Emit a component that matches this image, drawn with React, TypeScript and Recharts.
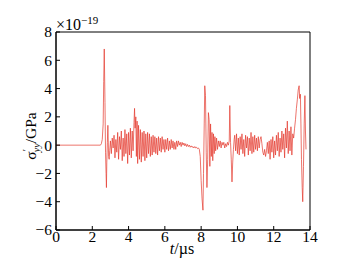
import React from 'react';
import { LineChart, Line, XAxis, YAxis, ReferenceArea, Label } from 'recharts';

// time in µs
const tVals = [
  0, 2.45, 2.5, 2.55, 2.6, 2.63, 2.66, 2.7, 2.73, 2.76, 2.78, 2.8, 2.83, 2.86, 2.9, 2.93, 2.96,
  3.0, 3.05, 3.1, 3.15, 3.2, 3.25, 3.3, 3.35, 3.4, 3.45, 3.5, 3.55, 3.6, 3.65, 3.7, 3.75, 3.8, 3.85,
  3.9, 3.95, 4.0, 4.05, 4.1, 4.15, 4.2, 4.25,
  4.3, 4.33, 4.36, 4.4, 4.43, 4.47, 4.5, 4.55, 4.6, 4.65, 4.7, 4.75, 4.8, 4.85, 4.9, 4.95, 5.0,
  5.05, 5.1, 5.15, 5.2, 5.25, 5.3, 5.35, 5.4, 5.45, 5.5, 5.55, 5.6, 5.65, 5.7, 5.75, 5.8, 5.85,
  5.9, 5.95, 6.0, 6.05, 6.1, 6.15, 6.2, 6.25, 6.3, 6.35, 6.4, 6.45, 6.5, 6.55, 6.6, 6.65, 6.7,
  6.75, 6.8, 6.85, 6.9, 6.95, 7.0, 7.05, 7.1, 7.15, 7.2, 7.25, 7.3, 7.35, 7.4, 7.45, 7.5, 7.55,
  7.6, 7.65, 7.7, 7.75, 7.8, 7.85, 7.9,
  7.95, 8.0, 8.05, 8.1, 8.13, 8.17, 8.2, 8.24, 8.28, 8.32, 8.36, 8.4, 8.44, 8.48, 8.52, 8.56,
  8.6, 8.64, 8.68, 8.72, 8.76, 8.8, 8.85, 8.9, 8.95, 9.0, 9.05, 9.1, 9.15, 9.2, 9.25, 9.3, 9.35,
  9.4, 9.45, 9.5, 9.55, 9.58, 9.62, 9.66, 9.7, 9.74, 9.78, 9.82,
  9.85, 9.9, 9.95, 10.0, 10.05, 10.1, 10.15, 10.2, 10.25, 10.3, 10.35, 10.4, 10.45, 10.5, 10.55,
  10.6, 10.65, 10.7, 10.75, 10.8, 10.85, 10.9, 10.95, 11.0, 11.05, 11.1, 11.15, 11.2, 11.25,
  11.3, 11.35,
  11.4, 11.45, 11.5, 11.55, 11.6, 11.65, 11.7, 11.75, 11.8, 11.85, 11.9, 11.95, 12.0, 12.05,
  12.1, 12.15, 12.2, 12.25, 12.3, 12.35, 12.4, 12.45, 12.5, 12.55, 12.6, 12.65, 12.7, 12.75,
  12.8, 12.85, 12.9, 12.95, 13.0, 13.05, 13.1, 13.15, 13.2, 13.25, 13.3, 13.35, 13.4, 13.43,
  13.47, 13.5, 13.53, 13.57, 13.6, 13.64, 13.68, 13.72, 13.75, 13.78,
];

// stress (×1e-19 GPa)
const sigmaVals = [
  0, 0, 0.1, 0.4, 1.5, 4.5, 6.8, 3.0, -0.5, -2.0, -3.0, -1.2, 0.2, 1.4, -0.8, -1.0, -0.4,
  0.3, -0.6, 0.5, -0.2, 0.7, -0.9, 0.4, -0.5, 0.9, -1.0, 0.6, -0.3, 1.0, -1.1, 0.5, -0.8, 1.1, -0.6,
  0.8, -1.3, 0.9, -0.7, 1.2, -0.9, 1.0, -0.4,
  1.6, 2.6, 1.2, 2.0, -0.8, 1.7, -1.3, 1.4, -1.0, 1.1, -1.2, 0.9, -0.8, 1.0, -1.1, 0.8, -0.9,
  0.9, -0.6, 0.8, -0.8, 0.6, -0.7, 0.7, -0.5, 0.6, -0.6, 0.5, -0.7, 0.6, -0.4, 0.5, -0.5, 0.6,
  -0.3, 0.4, -0.5, 0.4, -0.3, 0.5, -0.4, 0.3, -0.3, 0.4, -0.2, 0.3, -0.3, 0.2, -0.3, 0.3, -0.1,
  0.3, 0.0, 0.2, -0.1, 0.2, 0.0, 0.15, -0.05, 0.1, -0.1, 0.05, -0.1, 0.0, -0.15, -0.05, -0.15, -0.1,
  -0.2, -0.1, -0.2, -0.15, -0.25, -0.2, -0.3,
  -0.8, -2.5, -3.8, -4.6, -2.0, 1.5, 4.2, 3.5, -0.5, -3.0, -1.0, 2.3, 1.8, -1.5, 1.5, -0.8,
  0.9, -1.1, 0.8, -0.6, 0.6, -0.4, 0.5, -0.3, 0.3, -0.1, 0.3, -0.2, 0.2, 0.0, 0.2, -0.2, 0.1,
  -0.1, 0.2, 0.0, 0.3, 2.8, 0.2, -1.0, -2.6, -1.2, -0.3, 0.4,
  0.7, -0.4, 0.8, -0.6, 0.5, -0.7, 0.6, -0.3, 0.8, -0.6, 0.4, -0.8, 0.7, -0.2, 0.6,
  -0.7, 0.5, -0.4, 0.9, -0.6, 0.6, -0.5, 0.7, -0.3, 0.5, -0.4, 0.6, -0.2, 0.4,
  0.6, 0.1,
  -0.5, -0.7, -0.3, -0.8, -0.4, 0.2, -0.6, 0.3, -1.0, 0.4, -0.5, 0.6, -0.9, 0.3,
  -0.7, 0.7, -0.4, 0.9, -0.8, 0.5, -0.5, 1.0, -0.3, 0.8, -0.9, 1.2, -0.2, 1.7,
  -0.6, 1.0, -0.4, 1.3, -0.7, 0.8, 0.5, 1.2, 1.8, 2.6, 3.2, 3.9, 4.2, 3.3,
  3.6, 1.5, -1.0, -3.0, -4.0, -1.5, 1.5, 3.5, 1.0, -0.3,
];

const xTicks = [0, 2, 4, 6, 8, 10, 12, 14];
const yTicks = [-6, -4, -2, 0, 2, 4, 6, 8];

const data = tVals.map((t, i) => ({ t, s: sigmaVals[i] }));

const FONT = '"Liberation Serif", "DejaVu Serif", serif';
const fmt = (v: number) => (v < 0 ? `\u2212${Math.abs(v)}` : `${v}`);

const YTick = ({ x, y, payload }: any) => (
  <g>
    <line x1={x} x2={x + 4} y1={y} y2={y} stroke="#000" strokeWidth={1} />
    <text x={x - 4} y={y} dy="0.35em" textAnchor="end" fontFamily={FONT} fontSize={15.5} fill="#000">
      {fmt(payload.value)}
    </text>
  </g>
);

const XTick = ({ x, y, payload }: any) => (
  <g>
    <line x1={x} x2={x} y1={y} y2={y - 4} stroke="#000" strokeWidth={1} />
    <text x={x} y={y + 12} textAnchor="middle" fontFamily={FONT} fontSize={15.5} fill="#000">
      {payload.value}
    </text>
  </g>
);

const Extras = () => (
  <g fontFamily={FONT} fill="#000">
    <text x={56} y={30} fontSize={16}>
      ×10
      <tspan fontSize={11} dy={-6}>−19</tspan>
    </text>
    <text transform="translate(36,136) rotate(-90)" textAnchor="middle" fontSize={15.5}>
      σ
      <tspan fontSize={10} dy={-6}>′</tspan>
      <tspan fontSize={10} fontStyle="italic" dy={10} dx={-3}>yy</tspan>
      <tspan dy={-4}>/GPa</tspan>
    </text>
    <text x={182} y={254} textAnchor="middle" fontSize={16}>
      <tspan fontStyle="italic">t</tspan>/µs
    </text>
  </g>
);

export default function App() {
  return (
    <div style={{ position: 'absolute', left: 0, top: 0, background: '#fff' }}>
      <LineChart width={337} height={259} data={data} margin={{ top: 32, right: 27, left: 0, bottom: 0 }}>
        <XAxis
          dataKey="t"
          type="number"
          domain={[0, 14]}
          ticks={xTicks}
          height={29}
          tickSize={0}
          tickMargin={0}
          tickLine={false}
          axisLine={{ stroke: '#000' }}
          tick={<XTick />}
          interval={0}
        />
        <YAxis
          type="number"
          domain={[-6, 8]}
          ticks={yTicks}
          width={56}
          tickSize={0}
          tickMargin={0}
          tickLine={false}
          axisLine={{ stroke: '#000' }}
          tick={<YTick />}
          interval={0}
          allowDataOverflow
        >
          <Label content={() => <Extras />} />
        </YAxis>
        <ReferenceArea x1={0} x2={14} y1={-6} y2={8} stroke="#000" strokeWidth={1} fill="none" fillOpacity={0} />
        <Line
          type="linear"
          dataKey="s"
          stroke="#e4382c"
          strokeWidth={0.7}
          dot={false}
          isAnimationActive={false}
        />
      </LineChart>
    </div>
  );
}
